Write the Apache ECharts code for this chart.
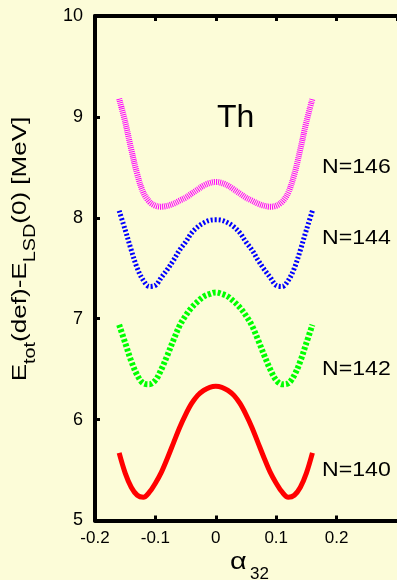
<!DOCTYPE html>
<html><head><meta charset="utf-8">
<script src="https://cdn.jsdelivr.net/npm/echarts@6/dist/echarts.min.js"></script>
<style>html,body{margin:0;padding:0;background:#fcfcd8;}#c{width:397px;height:580px;}</style>
</head><body><div id="c"></div><script>
// deformation alpha_32
const alpha = [-0.16,-0.15,-0.14,-0.13,-0.12,-0.11,-0.10,-0.09,-0.08,-0.07,-0.06,-0.05,-0.04,-0.03,-0.02,-0.01,0,
               0.01,0.02,0.03,0.04,0.05,0.06,0.07,0.08,0.09,0.10,0.11,0.12,0.13,0.14,0.15,0.16];
// energies [MeV]
const n140 = [5.67,5.47,5.33,5.25,5.23,5.28,5.37,5.48,5.62,5.77,5.92,6.05,6.16,6.24,6.29,6.32,6.33,
              6.32,6.29,6.24,6.16,6.05,5.92,5.77,5.62,5.48,5.37,5.28,5.23,5.25,5.33,5.47,5.67];
const n142 = [6.94,6.76,6.58,6.44,6.36,6.35,6.39,6.50,6.64,6.79,6.93,7.03,7.11,7.17,7.22,7.245,7.26,
              7.245,7.22,7.17,7.11,7.03,6.93,6.79,6.64,6.50,6.39,6.35,6.36,6.44,6.58,6.76,6.94];
const n144 = [8.07,7.88,7.68,7.50,7.38,7.32,7.33,7.41,7.49,7.58,7.68,7.76,7.85,7.91,7.95,7.975,7.98,
              7.975,7.95,7.91,7.85,7.76,7.68,7.58,7.49,7.41,7.33,7.32,7.38,7.50,7.68,7.88,8.07];
const n146 = [9.18,8.95,8.68,8.43,8.25,8.16,8.12,8.11,8.12,8.14,8.17,8.20,8.24,8.28,8.32,8.345,8.355,
              8.345,8.32,8.28,8.24,8.20,8.17,8.14,8.12,8.11,8.12,8.16,8.25,8.43,8.68,8.95,9.18];
const seriesNames = ['N=140','N=142','N=144','N=146'];
const xTicks = [-0.2,-0.1,0,0.1,0.2];
const yTicks = [5,6,7,8,9,10];
// annotation anchors (data coordinates)
const labelAnchors = [[0.176,5.50],[0.176,6.50],[0.176,7.80],[0.176,8.50]];
const elementLabel = 'Th';
const elementAnchor = [0.002, 8.99];

const FF = '"Liberation Sans", Arial, sans-serif';
const chart = echarts.init(document.getElementById('c'), null, {renderer:'canvas'});

const styles = [
  {color:'#ff0000', width:5, type:'solid'},
  {color:'#00ff00', width:6, type:[3,2]},
  {color:'#0000ff', width:5, type:[2,2]},
  {color:'#ff00ff', width:6, type:[1,1]}
];
const values = [n140, n142, n144, n146];

const fmt = v => {
  const r = Math.round(v*10)/10;
  const hit = xTicks.find(t => Math.abs(t - r) < 1e-9);
  if (hit === undefined) return '';
  return hit === 0 ? '0' : hit.toFixed(1);
};

chart.setOption({
  animation:false,
  backgroundColor:'#fcfcd8',
  grid:{left:95, right:-7, top:16, bottom:59.5, containLabel:false},
  xAxis:[{
    type:'value', min:-0.2, max:0.3, interval:0.1, position:'bottom',
    axisLine:{show:true, onZero:false, lineStyle:{color:'#000', width:4}},
    axisTick:{show:true, inside:true, length:5, lineStyle:{color:'#000', width:3}},
    axisLabel:{show:true, formatter:fmt, fontSize:17, fontFamily:FF, color:'#000', margin:9, showMaxLabel:false},
    splitLine:{show:false}
  },{
    type:'value', min:-0.2, max:0.3, interval:0.1, position:'top',
    axisLine:{show:true, onZero:false, lineStyle:{color:'#000', width:4}},
    axisTick:{show:true, inside:true, length:5, lineStyle:{color:'#000', width:3}},
    axisLabel:{show:false}, splitLine:{show:false}
  }],
  yAxis:[{
    type:'value', min:yTicks[0], max:yTicks[yTicks.length-1], interval:1,
    axisLine:{show:true, onZero:false, lineStyle:{color:'#000', width:4}},
    axisTick:{show:true, inside:true, length:5, lineStyle:{color:'#000', width:3}},
    axisLabel:{fontSize:18, fontFamily:FF, color:'#000', margin:12},
    splitLine:{show:false}
  }],
  series: values.map((v,k)=>({
    type:'line', name:seriesNames[k], xAxisIndex:0, yAxisIndex:0,
    data: alpha.map((a,i)=>[a, v[i]]),
    showSymbol:false, symbol:'none', smooth:0.35, clip:false,
    lineStyle:{color:styles[k].color, width:styles[k].width, type:styles[k].type, cap:'butt'}
  }))
});

const g = [];
labelAnchors.forEach((p,k)=>{
  const px = chart.convertToPixel({xAxisIndex:0, yAxisIndex:0}, p);
  g.push({type:'text', x:px[0], y:px[1], scaleX:1.1,
    style:{text:seriesNames[k], fontSize:21, fontFamily:FF, fill:'#000', align:'left', verticalAlign:'middle'}});
});
const tp = chart.convertToPixel({xAxisIndex:0, yAxisIndex:0}, elementAnchor);
g.push({type:'text', x:tp[0], y:tp[1],
  style:{text:elementLabel, fontSize:32, fontFamily:FF, fill:'#000', align:'left', verticalAlign:'middle'}});
// y-axis title
g.push({type:'text', x:25, y:249, rotation:Math.PI/2, scaleX:1.24,
  style:{text:'{m|E}{s|tot}{m|(def)-E}{s|LSD}{m|(0) [MeV]}', align:'center', verticalAlign:'middle', fill:'#000',
    rich:{
      m:{fontSize:21, fontFamily:FF, lineHeight:30, verticalAlign:'top', fill:'#000'},
      s:{fontSize:16, fontFamily:FF, lineHeight:16, verticalAlign:'top', padding:[13,0,0,0], fill:'#000'}
    }}});
// x-axis title
g.push({type:'text', x:230, y:562, scaleX:1.2,
  style:{text:'α', fontSize:24, fontFamily:FF, fill:'#000', align:'left', verticalAlign:'middle'}});
g.push({type:'text', x:250, y:574,
  style:{text:'32', fontSize:17, fontFamily:FF, fill:'#000', align:'left', verticalAlign:'middle'}});
chart.setOption({graphic:g});
</script></body></html>
